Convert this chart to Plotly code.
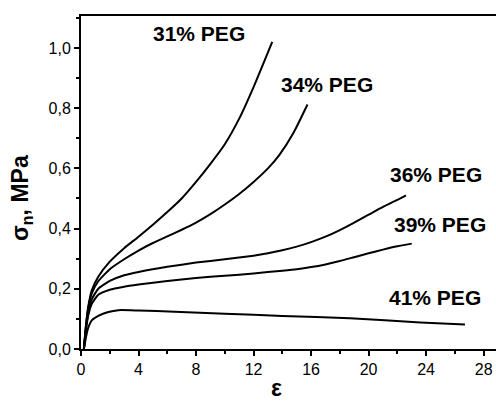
import plotly.graph_objects as go

# Data (strain ε vs nominal stress σn, MPa)
x31 = [0.2, 0.35, 0.5, 0.75, 1.2, 2.0, 3.0, 4.0, 5.0, 6.0, 7.0, 8.0, 9.0, 10.0, 11.0, 12.0, 13.3]
y31 = [0.0, 0.08, 0.14, 0.195, 0.24, 0.29, 0.335, 0.373, 0.413, 0.455, 0.5, 0.555, 0.615, 0.68, 0.765, 0.87, 1.02]

x34 = [0.2, 0.35, 0.5, 0.75, 1.2, 2.0, 3.0, 4.0, 5.0, 6.0, 7.0, 8.0, 9.0, 10.0, 11.0, 12.0, 13.0, 13.8, 14.8, 15.75]
y34 = [0.0, 0.08, 0.135, 0.185, 0.225, 0.265, 0.298, 0.327, 0.352, 0.374, 0.396, 0.42, 0.448, 0.48, 0.515, 0.555, 0.6, 0.645, 0.72, 0.812]

x36 = [0.2, 0.35, 0.5, 0.75, 1.2, 2.0, 3.0, 4.0, 6.0, 8.0, 10.0, 12.0, 13.0, 14.0, 15.0, 16.0, 17.0, 18.0, 19.0, 20.0, 21.0, 22.0, 22.6]
y36 = [0.0, 0.07, 0.12, 0.165, 0.2, 0.226, 0.245, 0.256, 0.273, 0.287, 0.298, 0.31, 0.318, 0.328, 0.34, 0.355, 0.373, 0.395, 0.42, 0.446, 0.472, 0.495, 0.51]

x39 = [0.2, 0.35, 0.5, 0.75, 1.2, 2.0, 3.0, 4.0, 6.0, 8.0, 10.0, 12.0, 14.0, 15.0, 16.0, 17.0, 18.0, 19.0, 20.0, 21.0, 22.0, 23.0]
y39 = [0.0, 0.065, 0.11, 0.15, 0.18, 0.197, 0.207, 0.214, 0.226, 0.236, 0.243, 0.251, 0.26, 0.265, 0.272, 0.281, 0.292, 0.305, 0.318, 0.33, 0.341, 0.35]

x41 = [0.2, 0.35, 0.5, 0.75, 1.2, 1.9, 2.6, 4.0, 6.5, 10.0, 14.0, 18.7, 23.6, 26.7]
y41 = [0.0, 0.04, 0.07, 0.095, 0.11, 0.123, 0.129, 0.128, 0.124, 0.117, 0.11, 0.102, 0.088, 0.081]

series_names = ["31% PEG", "34% PEG", "36% PEG", "39% PEG", "41% PEG"]
label_x = [8.24, 17.1, 24.7, 25.0, 24.6]
label_y = [1.047, 0.88, 0.578, 0.412, 0.171]

x_tickvals = [0, 4, 8, 12, 16, 20, 24, 28]
x_ticktext = ["0", "4", "8", "12", "16", "20", "24", "28"]
y_tickvals = [0.0, 0.2, 0.4, 0.6, 0.8, 1.0]
y_ticktext = ["0,0", "0,2", "0,4", "0,6", "0,8", "1,0"]

fig = go.Figure()
for xs, ys, nm in zip([x31, x34, x36, x39, x41], [y31, y34, y36, y39, y41], series_names):
    fig.add_trace(go.Scatter(x=xs, y=ys, mode="lines", name=nm,
                             line=dict(color="black", width=2, shape="spline", smoothing=0.5),
                             showlegend=False))

for nm, lx, ly in zip(series_names, label_x, label_y):
    fig.add_annotation(x=lx, y=ly, text="<b>" + nm + "</b>", showarrow=False,
                       font=dict(family="Liberation Sans, Arial", size=21, color="black"),
                       xanchor="center", yanchor="middle")

fig.add_annotation(xref="paper", yref="paper", x=-0.145, y=0.453,
                   text="<b>σ<sub>n</sub>, MPa</b>", textangle=-90, showarrow=False,
                   font=dict(family="Liberation Sans, Arial", size=23, color="black"),
                   xanchor="center", yanchor="middle")
fig.add_annotation(xref="paper", yref="paper", x=0.472, y=-0.118,
                   text="<b>ε</b>", showarrow=False,
                   font=dict(family="Liberation Sans, Arial", size=23, color="black"),
                   xanchor="center", yanchor="middle")

axis_font = dict(family="Liberation Sans, Arial", size=16, color="black")
fig.update_xaxes(range=[0, 28.86], showgrid=False, zeroline=False,
                 showline=True, linecolor="black", linewidth=2, mirror=True,
                 ticks="outside", ticklen=5, tickwidth=1.5, tickcolor="black",
                 tickvals=x_tickvals, ticktext=x_ticktext, tickfont=axis_font,
                 minor=dict(ticks="outside", ticklen=3, tickwidth=1.5, tickcolor="black", dtick=2, tick0=0, showgrid=False))
fig.update_yaxes(range=[0, 1.106], showgrid=False, zeroline=False,
                 showline=True, linecolor="black", linewidth=2, mirror=False,
                 ticks="outside", ticklen=5, tickwidth=1.5, tickcolor="black",
                 tickvals=y_tickvals, ticktext=y_ticktext, tickfont=axis_font,
                 minor=dict(ticks="outside", ticklen=3, tickwidth=1.5, tickcolor="black", dtick=0.1, tick0=0, showgrid=False))

fig.update_layout(width=496, height=402, margin=dict(l=81, r=0, t=16, b=53),
                  paper_bgcolor="white", plot_bgcolor="white")

fig.write_html("out.html")
